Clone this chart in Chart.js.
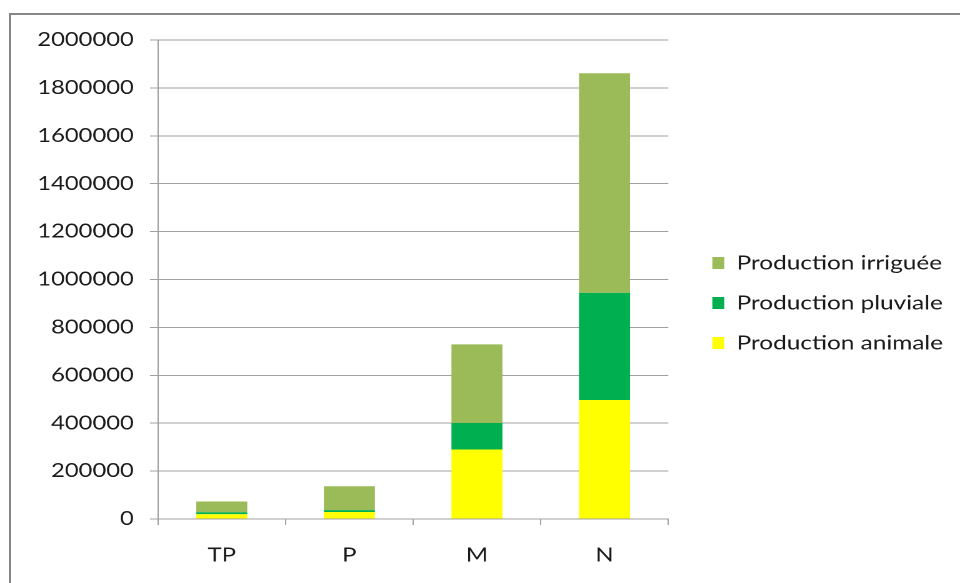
<!DOCTYPE html>
<html>
<head>
<meta charset="utf-8">
<script src="https://cdn.jsdelivr.net/npm/chart.js@4/dist/chart.umd.min.js"></script>
<style>
  html, body { margin: 0; padding: 0; background: #fff; overflow: hidden; }
  #frame {
    position: absolute; left: 9px; top: 13px; width: 980px; height: 600px;
    border-left: 2px solid #878787; border-top: 2px solid #878787;
  }
  /* the chart is laid out on a narrower canvas and widened horizontally */
  #wrap {
    position: absolute; left: 0; top: 0; width: 768px; height: 583px;
    transform: scaleX(1.25); transform-origin: 0 0;
  }
</style>
</head>
<body>
<div id="frame"></div>
<div id="wrap"><canvas id="c" width="768" height="583"></canvas></div>
<script>
// Production by farm size class
const categories = ['TP', 'P', 'M', 'N'];
const productionAnimale  = [20000, 29000, 290000, 497000];
const productionPluviale = [8000, 8000, 111000, 447000];
const productionIrriguee = [45000, 100000, 328000, 917000];
const seriesNames = ['Production animale', 'Production pluviale', 'Production irriguée'];
const yTickValues = [0, 200000, 400000, 600000, 800000, 1000000, 1200000, 1400000, 1600000, 1800000, 2000000];

const FONT = 'Lato';
const TEXT = '#1a1a1a';
const GRID = '#a0a0a0';
const AXIS_FONT = 19;
const LEGEND_FONT = 19.5;

// legend geometry (canvas units)
const legendItemsX = 569.6;
const legendPad = 20.5;
const legendBoxW = 9.6;
const plotRight = 534.4;
const plotLeft = 126.4;
const padLeft = 10;

// measure legend text so the legend column sits where wanted
const mctx = document.createElement('canvas').getContext('2d');
mctx.font = LEGEND_FONT + 'px ' + FONT;
const maxText = Math.max(...seriesNames.map(s => mctx.measureText(s).width));
const colWidth = legendBoxW + LEGEND_FONT / 2 + maxText;
const padRight = Math.max(0, 768 - legendItemsX - colWidth - legendPad / 2);
const gapWidth = (legendItemsX - legendPad) - plotRight;

new Chart(document.getElementById('c'), {
  type: 'bar',
  data: {
    labels: categories,
    datasets: [
      { label: seriesNames[0], data: productionAnimale,  backgroundColor: '#FFFF00' },
      { label: seriesNames[1], data: productionPluviale, backgroundColor: '#00B050' },
      { label: seriesNames[2], data: productionIrriguee, backgroundColor: '#9BBB59' }
    ]
  },
  options: {
    responsive: false,
    animation: false,
    devicePixelRatio: 2,
    layout: { padding: { left: padLeft, top: 40, bottom: 17, right: padRight } },
    datasets: { bar: { categoryPercentage: 1, barPercentage: 0.4, borderWidth: 0 } },
    plugins: {
      tooltip: { enabled: false },
      legend: {
        position: 'right',
        reverse: true,
        maxWidth: 400,
        labels: {
          boxWidth: legendBoxW,
          boxHeight: 12,
          padding: legendPad,
          color: TEXT,
          font: { family: FONT, size: LEGEND_FONT }
        }
      }
    },
    scales: {
      x: {
        stacked: true,
        grid: { display: true, drawOnChartArea: false, drawTicks: true, tickLength: 6, color: GRID, offset: true },
        border: { display: true, color: GRID },
        ticks: { color: TEXT, font: { family: FONT, size: AXIS_FONT }, padding: 19, maxRotation: 0 },
        afterFit: s => { s.height = 583 - 17 - 519; }
      },
      y: {
        stacked: true,
        min: 0,
        max: 2000000,
        afterBuildTicks: s => { s.ticks = yTickValues.map(v => ({ value: v })); },
        grid: { color: GRID, tickLength: 6.4, drawTicks: true },
        border: { display: true, color: GRID },
        ticks: {
          color: TEXT,
          font: { family: FONT, size: AXIS_FONT },
          padding: 13,
          callback: v => String(v)
        },
        afterFit: s => { s.width = plotLeft - padLeft; }
      },
      gap: {
        type: 'linear',
        position: 'right',
        display: true,
        grid: { display: false, drawTicks: false },
        border: { display: false },
        ticks: { display: false },
        afterFit: s => { s.width = gapWidth; }
      }
    }
  }
});
</script>
</body>
</html>
